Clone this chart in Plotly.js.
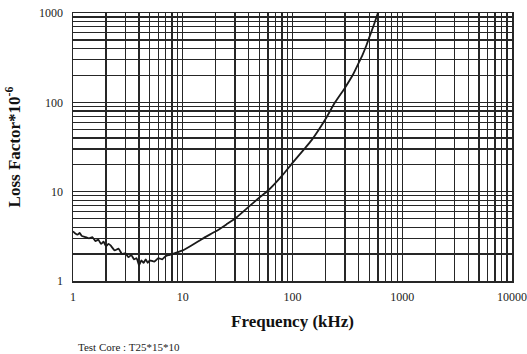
<!DOCTYPE html>
<html><head><meta charset="utf-8">
<script src="https://cdn.plot.ly/plotly-3.0.1.min.js"></script>
<style>body{margin:0;background:#fff}#c{width:527px;height:354px}</style>
</head><body><div id="c"></div>
<script>
var freq = [1,1.05,1.1,1.15,1.2,1.3,1.4,1.5,1.6,1.7,1.8,1.9,2.0,2.1,2.2,2.4,2.6,2.8,3.0,3.2,3.4,3.6,3.8,4.0,4.2,4.4,4.6,4.8,5.0,5.5,6,6.5,7,7.5,8,9,10,12,14,16,20,25,30,40,50,60,80,100,125,150,200,244,300,356,400,430,470,500,550,600];
var loss = [3.6,3.4,3.3,3.45,3.2,3.1,3.0,3.1,2.8,2.9,2.6,2.75,2.45,2.6,2.5,2.2,2.3,2.0,2.05,1.85,1.95,1.75,1.8,1.5,1.7,1.6,1.75,1.6,1.7,1.65,1.8,1.75,1.9,1.95,2.0,2.1,2.2,2.5,2.8,3.1,3.6,4.3,5.0,6.8,8.6,10.3,15,21,29,38,65,100,145,205,275,330,430,530,730,1000];
var xMajor = [1,10,100,1000,10000];
var yMajor = [1,10,100,1000];
function logTicks(majors){
  var v=[],t=[];
  for(var i=0;i<majors.length;i++){
    v.push(majors[i]); t.push(String(majors[i]));
    if(i<majors.length-1){ for(var m=2;m<=9;m++){ v.push(majors[i]*m); t.push(''); } }
  }
  return {v:v,t:t};
}
var xt = logTicks(xMajor), yt = logTicks(yMajor);
var serif = 'Liberation Serif, Times New Roman, serif';
var axisBase = {type:'log', showgrid:true, gridcolor:'#262626', gridwidth:1.3, showline:true, linecolor:'#262626', linewidth:1.5, mirror:true, ticks:'', zeroline:false, tickfont:{family:serif,size:12,color:'#222'}};
var layout = {
  width:527, height:354, margin:{l:73,r:15,t:13,b:73},
  paper_bgcolor:'#fff', plot_bgcolor:'#fff', showlegend:false,
  xaxis: Object.assign({}, axisBase, {range:[0,4], tickvals:xt.v, ticktext:xt.t, ticklabelstandoff:4,
    title:{text:'<b>Frequency (kHz)</b>', font:{family:serif,size:17,color:'#111'}, standoff:12}}),
  yaxis: Object.assign({}, axisBase, {range:[0,3], tickvals:yt.v, ticktext:yt.t, ticklabelstandoff:6,
    title:{text:'<b>Loss Factor*10<sup>-6</sup></b>', font:{family:serif,size:17,color:'#111'}, standoff:14}}),
  annotations:[{text:'Test Core : T25*15*10', xref:'paper', yref:'paper', x:0.006, y:-0.246, xanchor:'left', yanchor:'middle', showarrow:false, font:{family:serif,size:11,color:'#222'}}]
};
Plotly.newPlot('c',[{x:freq,y:loss,type:'scatter',mode:'lines',line:{color:'#1a1a1a',width:1.8,shape:'spline',smoothing:0.4}}],layout,{staticPlot:true});
</script></body></html>
